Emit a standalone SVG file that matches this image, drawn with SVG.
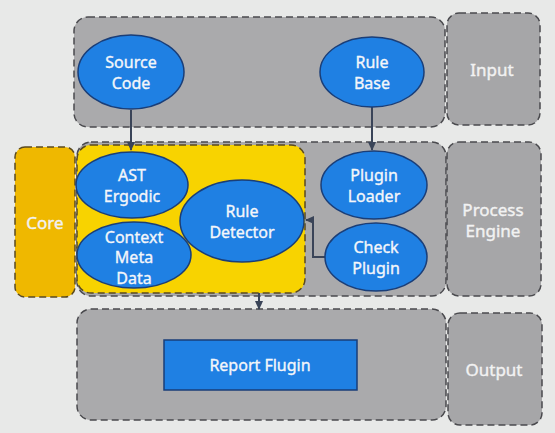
<svg xmlns="http://www.w3.org/2000/svg" width="555" height="433" viewBox="0 0 555 433">
<defs>
<style>
.panel{fill:#AAAAAC;stroke:#4A4A4E;stroke-width:1.5;stroke-dasharray:7 4}
.label{fill:#A6A6A8;stroke:#4A4A4E;stroke-width:1.5;stroke-dasharray:7 4}
.core{fill:#EFB800;stroke:#5A4A20;stroke-width:1.5;stroke-dasharray:7 4}
.yel{fill:#F8D300;stroke:#5A4A20;stroke-width:1.5;stroke-dasharray:7 4}
.node{fill:#1F80E3;stroke:#1A3E78;stroke-width:1.5}
.t{font-family:"Noto Sans","Open Sans",sans-serif;font-size:16px;fill:#F4F6FA;stroke:#F4F6FA;stroke-width:0.35;text-anchor:middle}
.lt{font-family:"Noto Sans","Open Sans",sans-serif;font-size:17px;fill:#F2F2F2;stroke:#F2F2F2;stroke-width:0.4;text-anchor:middle}
.conn{fill:none;stroke:#3A4458;stroke-width:2}
</style>
<marker id="arr" markerWidth="10" markerHeight="10" refX="8" refY="5" orient="auto" markerUnits="userSpaceOnUse">
<path d="M0,1 L9,5 L0,9 Z" fill="#3A4458"/>
</marker>
</defs>
<rect width="555" height="433" fill="#E8E9E8"/>

<g id="input-panel"><rect class="panel" x="74" y="17" width="371" height="110" rx="14"/></g>
<g id="input-label"><rect class="label" x="447" y="13" width="93" height="112" rx="12"/><text class="lt" x="492" y="76">Input</text></g>

<g id="process-panel"><rect class="panel" x="77" y="142" width="369" height="154" rx="14"/></g>
<g id="core"><rect class="core" x="15" y="147" width="60" height="150" rx="10"/><text class="lt" x="45" y="229">Core</text></g>
<g id="core-region"><rect class="yel" x="77" y="145" width="228" height="148" rx="14"/></g>
<g id="process-label"><rect class="label" x="447" y="142" width="94" height="154" rx="12"/><text class="lt" x="493" y="216">Process</text><text class="lt" x="493" y="237">Engine</text></g>

<g id="output-panel"><rect class="panel" x="77" y="309" width="369" height="111" rx="14"/></g>
<g id="output-label"><rect class="label" x="448" y="313" width="94" height="112" rx="12"/><text class="lt" x="494" y="376">Output</text></g>

<g id="connectors">
<path class="conn" d="M131,110 V150" marker-end="url(#arr)"/>
<path class="conn" d="M372,107 V150" marker-end="url(#arr)"/>
<path class="conn" d="M325,257 H313 V220 H306" marker-end="url(#arr)"/>
<path class="conn" d="M259,293 V309" marker-end="url(#arr)"/>
</g>

<g id="source-code"><ellipse class="node" cx="131" cy="72" rx="53" ry="37"/><text class="t" x="131" y="68">Source</text><text class="t" x="131" y="89">Code</text></g>
<g id="rule-base"><ellipse class="node" cx="372" cy="72" rx="52" ry="35"/><text class="t" x="372" y="68">Rule</text><text class="t" x="372" y="89">Base</text></g>
<g id="ast-ergodic"><ellipse class="node" cx="132" cy="185" rx="56" ry="33"/><text class="t" x="132" y="181">AST</text><text class="t" x="132" y="202">Ergodic</text></g>
<g id="context-meta-data"><ellipse class="node" cx="134" cy="255" rx="57" ry="33"/><text class="t" x="134" y="243">Context</text><text class="t" x="134" y="263">Meta</text><text class="t" x="134" y="284">Data</text></g>
<g id="rule-detector"><ellipse class="node" cx="242" cy="221" rx="62" ry="41"/><text class="t" x="242" y="217">Rule</text><text class="t" x="242" y="238">Detector</text></g>
<g id="plugin-loader"><ellipse class="node" cx="374" cy="185" rx="53" ry="34"/><text class="t" x="374" y="181">Plugin</text><text class="t" x="374" y="202">Loader</text></g>
<g id="check-plugin"><ellipse class="node" cx="376" cy="257" rx="51" ry="34"/><text class="t" x="376" y="253">Check</text><text class="t" x="376" y="274">Plugin</text></g>
<g id="report-flugin"><rect class="node" x="164" y="340" width="193" height="50"/><text class="t" x="260" y="371">Report Flugin</text></g>
</svg>
